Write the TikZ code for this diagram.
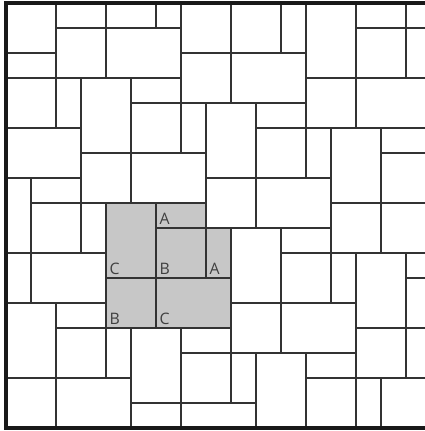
\documentclass[tikz,border=0pt]{standalone}
\usepackage{fontspec}
\setmainfont{Open Sans}
\begin{document}
\begin{tikzpicture}[x=0.5cm,y=-0.5cm,
  tile/.style={draw=black!80,line width=0.8pt},
  shadefill/.style={fill=black!22},
  lab/.style={anchor=south west,inner sep=1.8pt,font=\fontsize{9}{10}\selectfont,text=black!75},
  frame/.style={draw=black!90,line width=1.8pt}]
\useasboundingbox (-0.24,-0.12) rectangle (16.76,17.12);
\begin{scope}
  \clip (0,0) rectangle (16.76,17);
  % shaded unit
  \fill[shadefill] (4,8) -- (8,8) -- (8,9) -- (9,9) -- (9,13) -- (4,13) -- cycle;
  \foreach \a in {-4,...,5}{
    \foreach \b in {-4,...,5}{
      \pgfmathtruncatemacro\ox{3+\a+5*\b}
      \pgfmathtruncatemacro\oy{3+5*\a+\b}
      \draw[tile] (\ox,\oy) rectangle ++(2,3);
      \draw[tile] (\ox+2,\oy) rectangle ++(2,1);
      \draw[tile] (\ox+2,\oy+1) rectangle ++(2,2);
      \draw[tile] (\ox+4,\oy+1) rectangle ++(1,2);
      \draw[tile] (\ox,\oy+3) rectangle ++(2,2);
      \draw[tile] (\ox+2,\oy+3) rectangle ++(3,2);
    }
  }
\end{scope}
\draw[frame] (16.76,0) -- (0,0) -- (0,17) -- (16.76,17);
\node[lab] (a1) at (6,9) {A};
\node[lab] (a2) at (8,11) {A};
\node[lab] (c1) at (4,11) {C};
\node[lab] (b1) at (6,11) {B};
\node[lab] (b2) at (4,13) {B};
\node[lab] (c2) at (6,13) {C};
\end{tikzpicture}
\end{document}
